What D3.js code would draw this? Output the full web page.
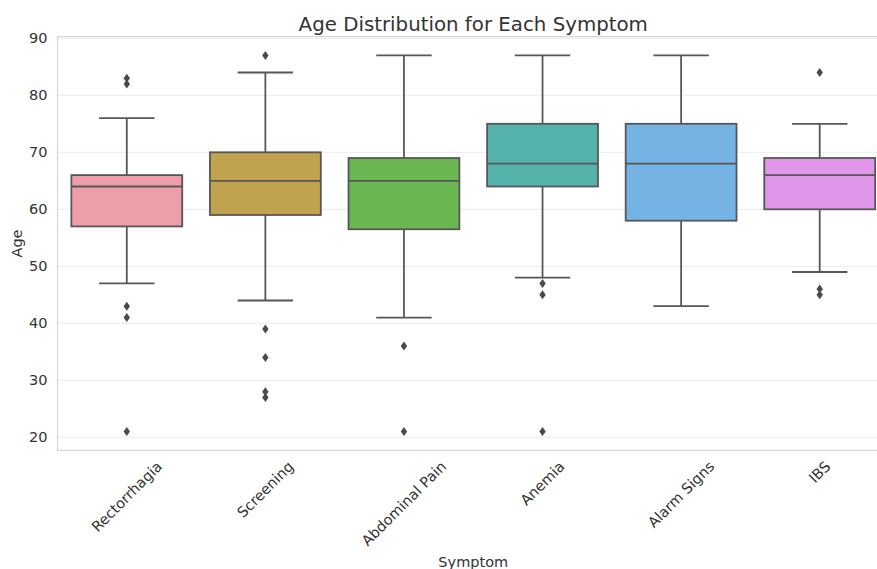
<!DOCTYPE html>
<html>
<head>
<meta charset="utf-8">
<script src="https://cdn.jsdelivr.net/npm/d3@7"></script>
<style>
  body { margin: 0; background: #fff; }
  svg { font-family: "DejaVu Sans", sans-serif; display: block; }
</style>
</head>
<body>
<div id="chart"></div>
<script>
const symptoms = ["Rectorrhagia", "Screening", "Abdominal Pain", "Anemia", "Alarm Signs", "IBS"];
const whiskerLow = [47, 44, 41, 48, 43, 49];
const q1 = [57, 59, 56.5, 64, 58, 60];
const medians = [64, 65, 65, 68, 68, 66];
const q3 = [66, 70, 69, 75, 75, 69];
const whiskerHigh = [76, 84, 87, 87, 87, 75];
const outliers = [
    [83, 82, 43, 41, 21],
    [87, 39, 34, 28, 27],
    [36, 21],
    [47, 45, 21],
    [],
    [84, 46, 45]
];
const yTicks = [20, 30, 40, 50, 60, 70, 80, 90];

// box fills (seaborn husl, desaturated)
const palette = ["#ee9ea9", "#c1a34f", "#6ab650", "#55b2aa", "#74b3e3", "#e097e9"];

const width = 877, height = 569;
const plotLeft = 57.5, plotRight = 889, plotTop = 36.6, plotBottom = 450.4;
const lineColor = "#575757";
const textColor = "#333";

const svg = d3.select("#chart").append("svg")
    .attr("width", width)
    .attr("height", height);

const x = d3.scaleBand().domain(symptoms).range([plotLeft, plotRight]).paddingInner(0).paddingOuter(0);
const y = d3.scaleLinear().domain([17.7, 90.3]).range([plotBottom, plotTop]);
const color = d3.scaleOrdinal().domain(symptoms).range(palette);

// grid
svg.append("g").selectAll("line")
    .data(yTicks)
    .join("line")
    .attr("x1", plotLeft).attr("x2", plotRight)
    .attr("y1", d => y(d)).attr("y2", d => y(d))
    .attr("stroke", "#ebebeb").attr("stroke-width", 1);

// frame
svg.append("rect")
    .attr("x", plotLeft).attr("y", plotTop)
    .attr("width", plotRight - plotLeft).attr("height", plotBottom - plotTop)
    .attr("fill", "none").attr("stroke", "#d6d6d6").attr("stroke-width", 1.2);

// y axis labels
const yAxis = svg.append("g")
    .attr("transform", `translate(${plotLeft},0)`)
    .call(d3.axisLeft(y).tickValues(yTicks).tickSize(0).tickPadding(10));
yAxis.select(".domain").remove();
yAxis.selectAll("text")
    .attr("fill", textColor)
    .style("font-size", "14.5px")
    .style("font-family", "DejaVu Sans");

// boxes
const boxW = x.bandwidth() * 0.8;
const capW = boxW / 2;
const g = svg.append("g").selectAll("g")
    .data(symptoms)
    .join("g")
    .attr("transform", d => `translate(${x(d) + x.bandwidth() / 2},0)`);

g.append("line")
    .attr("x1", 0).attr("x2", 0)
    .attr("y1", (d, i) => y(whiskerHigh[i])).attr("y2", (d, i) => y(q3[i]))
    .attr("stroke", lineColor).attr("stroke-width", 1.8);
g.append("line")
    .attr("x1", 0).attr("x2", 0)
    .attr("y1", (d, i) => y(q1[i])).attr("y2", (d, i) => y(whiskerLow[i]))
    .attr("stroke", lineColor).attr("stroke-width", 1.8);
g.append("line")
    .attr("x1", -capW / 2).attr("x2", capW / 2)
    .attr("y1", (d, i) => y(whiskerHigh[i])).attr("y2", (d, i) => y(whiskerHigh[i]))
    .attr("stroke", lineColor).attr("stroke-width", 1.8);
g.append("line")
    .attr("x1", -capW / 2).attr("x2", capW / 2)
    .attr("y1", (d, i) => y(whiskerLow[i])).attr("y2", (d, i) => y(whiskerLow[i]))
    .attr("stroke", lineColor).attr("stroke-width", 1.8);
g.append("rect")
    .attr("x", -boxW / 2)
    .attr("width", boxW)
    .attr("y", (d, i) => y(q3[i]))
    .attr("height", (d, i) => y(q1[i]) - y(q3[i]))
    .attr("fill", d => color(d))
    .attr("stroke", lineColor).attr("stroke-width", 1.8);
g.append("line")
    .attr("x1", -boxW / 2).attr("x2", boxW / 2)
    .attr("y1", (d, i) => y(medians[i])).attr("y2", (d, i) => y(medians[i]))
    .attr("stroke", lineColor).attr("stroke-width", 1.8);

// outliers as thin diamonds
g.selectAll("path.flier")
    .data((d, i) => outliers[i])
    .join("path")
    .attr("class", "flier")
    .attr("d", "M0,-4.5L3.2,0L0,4.5L-3.2,0Z")
    .attr("transform", v => `translate(0,${y(v)})`)
    .attr("fill", "#4a4a4a");

// x tick labels rotated 45 deg, centred on tick
const labelTop = 459;
const xl = svg.append("g").selectAll("text")
    .data(symptoms)
    .join("text")
    .text(d => d)
    .attr("fill", textColor)
    .style("font-size", "14.5px")
    .attr("text-anchor", "middle")
    .attr("dominant-baseline", "central");
xl.each(function(d) {
    const w = this.getComputedTextLength();
    const h = 14.5 * 0.95;
    const half = (w + h) / Math.SQRT2 / 2;
    const cx = x(d) + x.bandwidth() / 2;
    d3.select(this).attr("transform", `translate(${cx},${labelTop + half}) rotate(-45)`);
});

// axis titles
svg.append("text")
    .attr("x", (plotLeft + plotRight) / 2).attr("y", 567)
    .attr("text-anchor", "middle")
    .attr("fill", textColor)
    .style("font-size", "14.5px")
    .text("Symptom");

svg.append("text")
    .attr("transform", `translate(22,${(plotTop + plotBottom) / 2}) rotate(-90)`)
    .attr("text-anchor", "middle")
    .attr("fill", textColor)
    .style("font-size", "14.5px")
    .text("Age");

svg.append("text")
    .attr("x", (plotLeft + plotRight) / 2).attr("y", 30.5)
    .attr("text-anchor", "middle")
    .attr("fill", textColor)
    .style("font-size", "19.8px")
    .text("Age Distribution for Each Symptom");
</script>
</body>
</html>
